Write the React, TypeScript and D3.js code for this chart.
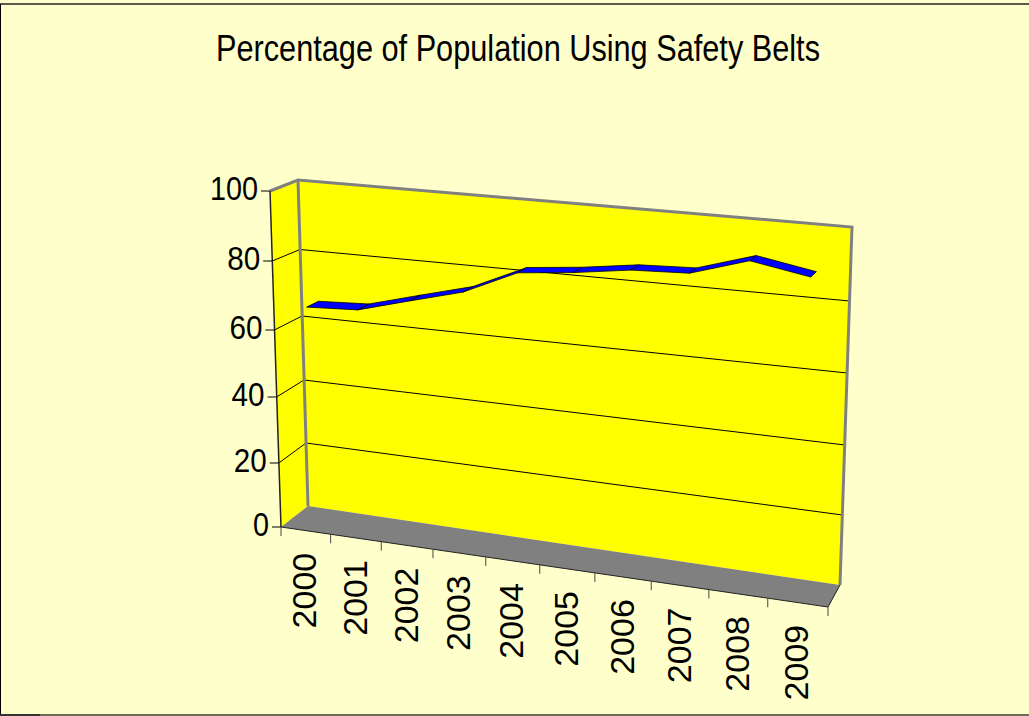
import React from "react";
import * as d3 from "d3";

const title = "Percentage of Population Using Safety Belts";
const years = ["2000", "2001", "2002", "2003", "2004", "2005", "2006", "2007", "2008", "2009"];
const usage = [66.3, 67, 71.1, 75.1, 82, 83.5, 85.6, 86.2, 91, 88.1];
const valueTicks = [0, 20, 40, 60, 80, 100];

// Box geometry: heights of the four vertical edges at each value tick
const frontLeftY = [527, 463, 397, 330, 261, 191];
const backLeftY = [506, 443, 380, 316, 249.5, 180];
const backRightY = [585, 515, 445, 373, 301, 227];
const frontRightY = [607, 535, 463, 389, 314, 238];

const W = 1029;
const H = 716;
const ribbonFront = 0.28;
const ribbonBack = 0.72;

const yFL = d3.scaleLinear().domain(valueTicks).range(frontLeftY);
const yBL = d3.scaleLinear().domain(valueTicks).range(backLeftY);
const yBR = d3.scaleLinear().domain(valueTicks).range(backRightY);
const yFR = d3.scaleLinear().domain(valueTicks).range(frontRightY);
const xFL = d3.scaleLinear().domain([0, 100]).range([281, 270]);
const xBL = d3.scaleLinear().domain([0, 100]).range([308, 298]);
const xBR = d3.scaleLinear().domain([0, 100]).range([840, 852]);
const xFR = d3.scaleLinear().domain([0, 100]).range([828, 840]);

// Perspective foreshortening along the category axis
const warp = (t: number) => t / (1.114 - 0.114 * t);
const lerp = (a: number, b: number, k: number) => a + (b - a) * k;

function project(t: number, v: number, d: number): [number, number] {
  const u = warp(t);
  const x = lerp(lerp(xFL(v), xFR(v), u), lerp(xBL(v), xBR(v), u), d);
  const y = lerp(lerp(yFL(v), yFR(v), u), lerp(yBL(v), yBR(v), u), d);
  return [x, y];
}

const band = d3.scaleBand<string>().domain(years).range([0, 1]);
const catT = (y: string) => (band(y) as number) + band.bandwidth() / 2;
const poly = d3.line();
const closed = (pts: [number, number][]) => (poly(pts) as string) + "Z";

export default function App() {
  const pieces = usage.slice(1).map((v, i) => {
    const t0 = catT(years[i]);
    const t1 = catT(years[i + 1]);
    const v0 = usage[i];
    return closed([
      project(t0, v0, ribbonFront),
      project(t1, v, ribbonFront),
      project(t1, v, ribbonBack),
      project(t0, v0, ribbonBack),
    ]);
  });
  const edgeTicks = d3.range(0, 11).map((i) => project(i / 10, 0, 0));
  const font = "'Liberation Sans', Arial, sans-serif";
  return (
    <svg width={W} height={H} viewBox={`0 0 ${W} ${H}`} style={{ position: "absolute", left: 0, top: 0, display: "block" }}>
      <rect x={0} y={0} width={W} height={H} fill="#FFFFCC" />
      <line x1={0} y1={4} x2={W} y2={4} stroke="#222" strokeWidth={1.5} />
      <line x1={0.5} y1={4} x2={0.5} y2={H} stroke="#000" strokeWidth={1} />
      <line x1={0} y1={715} x2={W} y2={715} stroke="#6e6e58" strokeWidth={2} />
      <line x1={0} y1={715} x2={40} y2={715} stroke="#333" strokeWidth={2} />

      <text x={518} y={61} fontFamily={font} fontSize={36} textAnchor="middle" textLength={604} lengthAdjust="spacingAndGlyphs" fill="#000">
        {title}
      </text>

      {/* walls and floor */}
      <path d={closed([project(0, 0, 0), project(0, 100, 0), project(0, 100, 1), project(0, 0, 1)])} fill="#FFFF00" />
      <path d={closed([project(0, 0, 1), project(0, 100, 1), project(1, 100, 1), project(1, 0, 1)])} fill="#FFFF00" />
      <path d={closed([project(0, 0, 0), project(0, 0, 1), project(1, 0, 1), project(1, 0, 0)])} fill="#808080" />

      {/* gridlines */}
      {valueTicks.slice(1, -1).map((v) => (
        <path key={v} d={poly([project(0, v, 0), project(0, v, 1), project(1, v, 1)]) as string} fill="none" stroke="#000" strokeWidth={1} />
      ))}

      {/* wall edges */}
      <path d={poly([project(0, 100, 0), project(0, 100, 1), project(1, 100, 1), project(1, 0, 1)]) as string} fill="none" stroke="#808080" strokeWidth={3} />
      <path d={poly([project(0, 100, 1), project(0, 0, 1)]) as string} fill="none" stroke="#808080" strokeWidth={3} />

      {/* value axis */}
      <path d={poly([project(0, 0, 0), project(0, 100, 0)]) as string} fill="none" stroke="#222" strokeWidth={1.5} />
      {valueTicks.map((v) => {
        const [x, y] = project(0, v, 0);
        return (
          <g key={v}>
            <line x1={x - 9} y1={y} x2={x} y2={y} stroke="#000" strokeWidth={1} />
            <text x={x - 12} y={y + 9} fontFamily={font} fontSize={33} textAnchor="end" textLength={v === 100 ? 48 : v === 0 ? 16 : 33} lengthAdjust="spacingAndGlyphs" fill="#000">
              {v}
            </text>
          </g>
        );
      })}

      {/* category axis */}
      <path d={poly([project(0, 0, 0), project(1, 0, 0), project(1, 0, 1)]) as string} fill="none" stroke="#222" strokeWidth={1} />
      {edgeTicks.map(([x, y], i) => (
        <line key={i} x1={x} y1={y} x2={x} y2={y + 9} stroke="#444" strokeWidth={1} />
      ))}
      {years.map((label) => {
        const [x, y] = project(catT(label), 0, 0);
        const lx = x - 1.5;
        const ly = y + 60;
        return (
          <text key={label} x={lx} y={ly} dy="0.36em" transform={`rotate(-90 ${lx} ${ly})`} fontFamily={font} fontSize={34} textAnchor="middle" fill="#000">
            {label}
          </text>
        );
      })}

      {/* ribbon */}
      {pieces.map((d, i) => (
        <path key={years[i]} d={d} fill="#0000FF" stroke="#000" strokeWidth={0.8} strokeLinejoin="round" />
      ))}
    </svg>
  );
}
